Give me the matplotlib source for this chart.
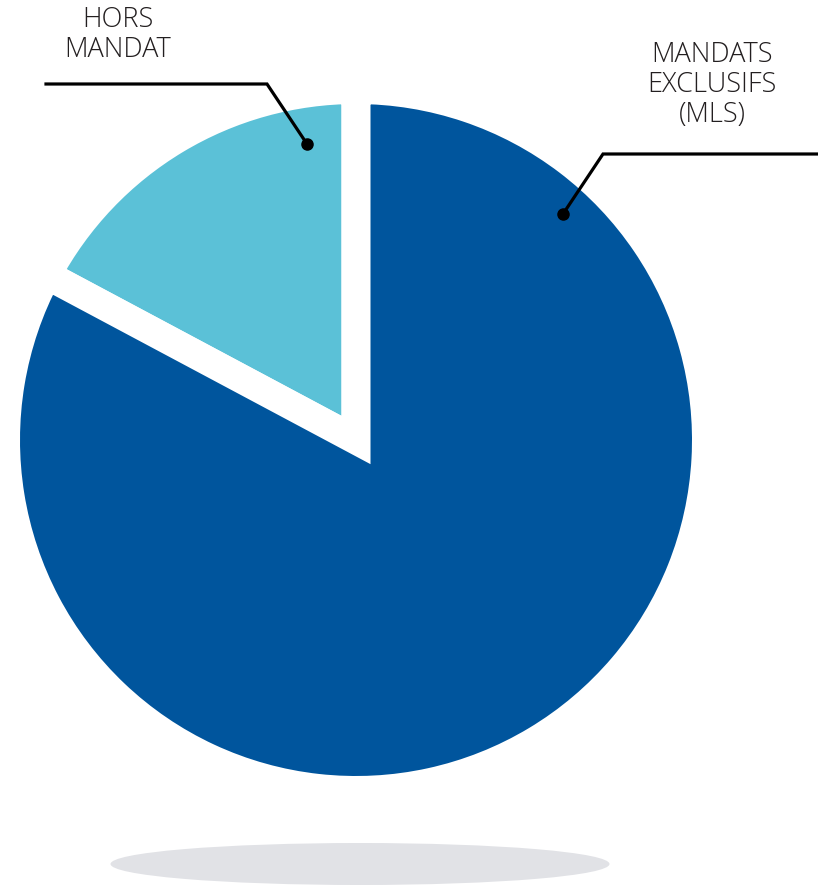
import matplotlib.pyplot as plt
from matplotlib.patches import Ellipse

# data
labels = ["HORS\nMANDAT", "MANDATS\nEXCLUSIFS\n(MLS)"]
shares = [17.2, 82.8]
colours = ["#5BC1D7", "#00559D"]

W, H = 818, 886
fig = plt.figure(figsize=(W / 100, H / 100), dpi=100)
ax = fig.add_axes([0, 0, 1, 1])


def py(y):
    # pixel row (from top) -> data y
    return H - y


gap = 29  # white gap between slices, px
radius = 336
ax.pie(shares, colors=colours, startangle=90, counterclock=True,
       center=(356, py(440)), radius=radius + gap / 2, frame=True,
       wedgeprops=dict(edgecolor="white", linewidth=gap * 72 / 100))

# shadow under the pie
ax.add_patch(Ellipse((360, py(864)), 499, 42, facecolor="#E1E2E6",
                     edgecolor="none", zorder=0))

txt = dict(fontsize=19.5, color="#231F20", ha="center", va="baseline",
           family=["Open Sans", "DejaVu Sans"], fontweight=300)


def label(x, first_baseline, text):
    for i, line in enumerate(text.split("\n")):
        ax.text(x, py(first_baseline + 30 * i), line, **txt)


# HORS MANDAT
label(118, 27, labels[0])
ax.plot([46, 267, 307], [py(84), py(84), py(144)], color="black", lw=2.3,
        solid_joinstyle="miter", zorder=5)
ax.plot([307], [py(144)], "o", color="black", ms=8, zorder=6)

# MANDATS EXCLUSIFS
label(712, 62, labels[1])
ax.plot([818, 603, 563], [py(154), py(154), py(214)], color="black", lw=2.3,
        solid_joinstyle="miter", zorder=5)
ax.plot([563], [py(214)], "o", color="black", ms=8, zorder=6)

ax.set_xlim(0, W)
ax.set_ylim(0, H)
ax.set_aspect("auto")
ax.axis("off")

fig.savefig("out.png", dpi=100)
